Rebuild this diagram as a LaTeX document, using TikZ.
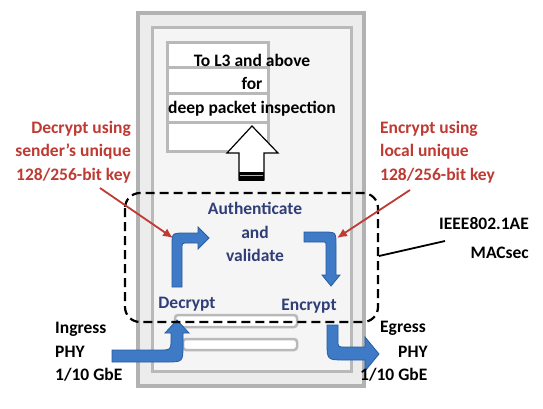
\documentclass[tikz,border=0pt]{standalone}
\usepackage{fontspec}
\setmainfont{Carlito}
\usepackage{xcolor}
\usetikzlibrary{arrows.meta, positioning, calc}

\definecolor{keyred}{RGB}{190,58,50}
\definecolor{macblue}{RGB}{48,62,120}
\definecolor{flowfill}{RGB}{62,122,198}
\definecolor{flowedge}{RGB}{40,92,160}

\begin{document}
\begin{tikzpicture}[%
    x=1pt, y=-1pt,
    >=Latex,
    every node/.style={%
      font=\bfseries\fontsize{17.5}{23.5}\selectfont,
      inner sep=0pt
    },
    redlabel/.style={text=keyred},
    bluelabel/.style={text=macblue},
    keyline/.style={draw=keyred, line width=1.8pt, -{Latex[length=10pt,width=9pt]}},
    flow/.style={fill=flowfill, draw=flowedge, line width=0.8pt},
    frame/.style={draw=gray!55, line width=3pt}
  ]

  \useasboundingbox[fill=white] (0,0) rectangle (543,408);

  % Card frames
  \draw[fill=gray!15, draw=gray!60, line width=4pt] (138,13) rectangle (364,386);
  \draw[fill=gray!8, frame] (152,27) rectangle (351,371);

  % Stack of layers
  \draw[fill=white, frame] (167,42) rectangle (268,151);
  \draw[frame] (167,67) -- (268,67);
  \draw[frame] (167,93) -- (268,93);
  \draw[frame] (167,122) -- (268,122);

  % Bottom bars
  \draw[fill=white, draw=gray!55, line width=2.5pt, rounded corners=3pt]
    (175,315) rectangle (297,327);
  \draw[fill=white, draw=gray!55, line width=2.5pt, rounded corners=3pt]
    (183,339) rectangle (297,350);

  \node[align=center] (upper) at (252,85)
    {To L3 and above\\for\\deep packet inspection};

  % Hollow arrow up
  \draw[fill=white, line width=1.2pt]
    (239,180) -- (239,153) -- (227,153) -- (252,126) -- (278,153)
    -- (264,153) -- (264,180) -- cycle;
  \fill[black] (239,172) rectangle (264,181);
  \draw[gray!60, line width=1pt] (240,175) -- (263,175);

  % Blue flow arrows
  \filldraw[flow] (172,287) -- (172,246) .. controls (172,233) .. (185,233)
    -- (198,233) -- (198,227) -- (209,238) -- (198,249) -- (198,243)
    -- (188,243) .. controls (182,243) .. (182,249) -- (182,287) -- cycle;
  \filldraw[flow] (304,232) -- (323,232) .. controls (336,232) .. (336,245)
    -- (336,275) -- (340,275) -- (331,286) -- (322,275) -- (326,275)
    -- (326,246) .. controls (326,242) .. (322,242) -- (304,242) -- cycle;
  \filldraw[flow] (112,350) -- (160,350) .. controls (171,350) .. (171,339)
    -- (171,333) -- (165,333) -- (177,320) -- (189,333) -- (183,333)
    -- (183,345) .. controls (183,362) .. (166,362) -- (112,362) -- cycle;
  \filldraw[flow] (327,325) -- (338,325) -- (338,340) .. controls (338,347) .. (345,347)
    -- (365,347) -- (365,337) -- (379,354) -- (365,371) -- (365,360)
    -- (345,360) .. controls (327,360) .. (327,342) -- cycle;

  % MACsec region
  \draw[dashed, dash pattern=on 9pt off 5pt, line width=2.2pt, rounded corners=15pt]
    (125,193) rectangle (378,322);

  \node[bluelabel, align=center] (auth) at (255,232) {Authenticate\\and\\validate};
  \node[bluelabel] (dec) at (187,304) {Decrypt};
  \node[bluelabel] (enc) at (309,306) {Encrypt};

  \node[align=left, anchor=west] (ingress) at (55,352) {Ingress\\PHY\\1/10 GbE};
  \node[anchor=west] (egress) at (380,328) {Egress};
  \node[anchor=west] (egphy) at (398,352) {PHY};
  \node[anchor=west] (egrate) at (360,375) {1/10 GbE};

  \node[redlabel, align=right, anchor=east] (decnote) at (131,152)
    {Decrypt using\\sender's unique\\128/256-bit key};
  \node[redlabel, align=left, anchor=west] (encnote) at (380,152)
    {Encrypt using\\local unique\\128/256-bit key};
  \node[align=right, anchor=east] (macsec) at (529,238) {IEEE802.1AE\\[5pt]MACsec};

  \coordinate (decfrom) at (100,188);
  \coordinate (decto) at (173,238);
  \coordinate (encfrom) at (410,190);
  \coordinate (encto) at (337,238);
  \coordinate (macfrom) at (445,241);
  \coordinate (macto) at (379,256);
  \draw[keyline] (decfrom) -- (decto);
  \draw[keyline] (encfrom) -- (encto);
  \draw[line width=1.8pt] (macfrom) -- (macto);

\end{tikzpicture}
\end{document}
